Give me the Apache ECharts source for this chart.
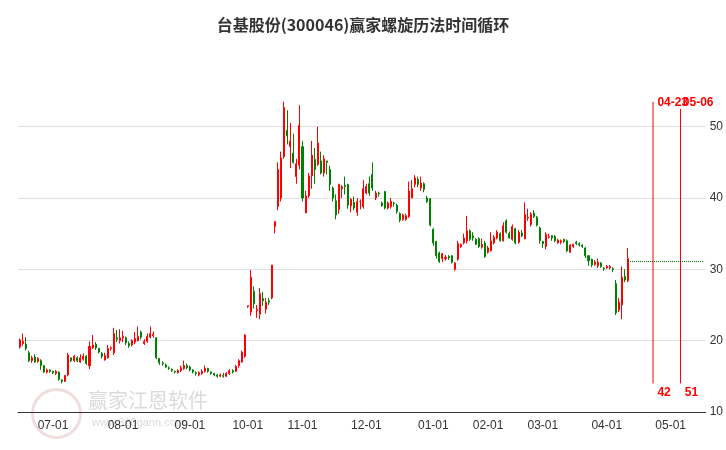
<!DOCTYPE html>
<html><head><meta charset="utf-8">
<script src="https://cdn.jsdelivr.net/npm/echarts@6/dist/echarts.min.js"></script>
<style>html,body{margin:0;padding:0;background:#fff}#c{width:726px;height:450px}</style>
</head><body><div id="c"></div>
<script>
const title = '台基股份(300046)赢家螺旋历法时间循环';
// [open, close, low, high] per trading day, month by month
const jun = [[19.1,20.1,18.9,20.3],[19.6,19.9,19.3,21.0],[19.5,18.9,18.6,20.5],[18.3,17.2,17.0,18.6],[17.2,17.6,16.9,17.9],[17.7,17.0,16.9,18.1],[17.1,17.5,16.9,17.7],[17.2,16.5,15.9,17.4],[16.5,15.6,15.5,16.6],[15.6,15.9,15.4,16.1],[15.9,15.7,15.5,16.0]];
const jul = [[15.7,15.5,15.3,15.8],[15.4,15.7,15.2,15.9],[15.6,14.6,14.4,15.7],[14.5,14.3,14.0,14.6],[14.3,15.1,14.2,15.2],[15.2,18.0,15.0,18.3],[17.6,17.2,17.0,17.6],[17.2,17.8,17.0,18.0],[17.6,17.2,17.0,17.8],[17.0,17.6,16.9,18.1],[17.4,17.8,17.2,18.2],[17.8,16.8,16.6,18.0],[16.5,19.2,16.0,19.9],[19.0,19.4,18.8,20.8],[19.5,19.0,18.7,19.8],[18.9,18.4,18.2,19.0],[18.2,17.8,17.5,18.4],[17.3,17.9,17.2,18.3],[17.6,18.9,17.5,19.4],[18.9,19.0,18.6,19.2],[18.3,21.0,18.0,21.8],[20.4,20.2,19.8,21.5],[20.0,20.4,19.6,21.6]];
const aug = [[20.4,20.6,19.8,21.4],[20.4,19.7,19.4,20.6],[19.6,19.3,19.0,19.9],[19.4,20.0,19.2,20.2],[19.8,20.3,19.5,21.2],[20.0,20.6,19.9,22.0],[21.2,20.5,20.2,21.4],[19.6,19.9,19.4,20.2],[19.9,20.6,19.7,21.0],[20.5,21.0,20.3,22.0],[20.7,20.9,20.4,21.3],[20.4,17.6,17.4,20.5],[17.5,16.9,16.6,17.6],[16.9,16.8,16.5,17.1],[16.6,16.3,16.2,16.8],[16.2,16.1,15.9,16.4],[16.0,15.8,15.6,16.1],[15.7,15.6,15.4,15.8],[15.5,15.8,15.4,16.0],[15.8,16.2,15.6,16.5],[16.1,16.5,15.9,17.2],[16.5,16.2,16.0,16.8]];
const sep = [[16.3,15.9,15.7,16.5],[15.9,15.6,15.4,16.0],[15.5,15.4,15.1,15.7],[15.2,15.5,15.0,15.7],[15.4,15.7,15.2,16.0],[15.7,16.1,15.5,16.5],[16.1,15.7,15.5,16.2],[15.6,15.4,15.2,15.7],[15.4,15.2,15.0,15.5],[15.2,15.0,14.8,15.3],[15.0,15.2,14.9,15.4],[15.1,15.0,14.8,15.5],[15.0,15.4,14.9,15.6],[15.4,15.8,15.2,16.0],[15.8,15.6,15.4,16.0],[15.7,16.4,15.6,16.6],[16.5,17.2,16.2,17.4],[17.0,18.4,16.9,18.6],[17.8,20.8,17.6,20.9]];
const oct = [[24.8,24.9,24.6,24.9],[24.0,28.9,23.5,29.9],[26.9,25.2,24.5,27.6],[24.2,24.4,23.2,25.0],[23.7,26.6,23.0,27.4],[25.9,25.6,24.9,26.8],[24.4,25.4,23.8,26.0],[25.6,25.4,25.0,26.0],[26.0,30.6,25.8,30.6],[36.0,36.7,35.0,36.7],[38.8,44.0,38.3,45.0],[40.0,45.6,39.5,46.5],[45.8,52.7,45.5,53.5],[49.5,48.7,47.5,52.3],[47.2,48.0,44.2,50.5],[46.3,45.0,44.8,49.0],[43.0,44.8,42.0,45.5],[44.6,50.2,44.0,53.0]];
const nov = [[47.2,40.0,39.5,48.0],[37.9,40.3,37.9,41.0],[40.3,43.1,40.0,43.5],[43.1,46.0,41.3,48.0],[45.4,44.0,42.0,47.0],[44.7,47.7,44.5,50.0],[45.2,43.5,43.3,46.5],[43.5,45.5,43.0,46.0],[45.2,45.0,43.3,45.2],[44.0,41.9,41.0,44.5],[41.4,40.0,39.5,41.6],[39.6,37.6,37.0,40.5],[38.4,41.9,37.8,42.0],[41.3,41.6,40.0,41.8],[41.8,41.6,40.5,43.0],[41.9,39.0,38.5,42.0],[38.9,39.8,38.0,40.0],[39.4,38.6,38.3,40.2],[38.0,39.5,37.5,40.0],[39.5,39.5,38.4,39.8],[38.8,41.3,38.5,42.5]];
const dec = [[40.7,41.6,40.5,42.0],[42.0,40.7,40.3,43.0],[43.3,41.4,41.0,45.0],[40.0,40.7,39.7,41.0],[40.7,40.6,40.2,40.9],[39.3,38.9,38.8,39.5],[40.9,38.6,38.4,41.0],[38.6,39.3,38.4,39.5],[38.8,39.5,38.5,40.0],[39.3,39.2,38.8,39.5],[39.0,38.1,37.8,39.2],[37.8,36.9,36.6,38.0],[37.0,37.6,36.8,37.8],[37.0,37.5,36.8,37.8],[37.4,41.0,37.2,42.3],[40.0,41.3,40.0,42.5],[41.9,42.8,41.5,43.2],[42.6,41.9,41.5,43.0],[41.4,42.1,41.0,43.0],[42.0,41.2,40.8,42.2],[40.0,39.5,39.3,40.3],[39.9,36.2,36.0,40.0]];
const jan = [[35.6,33.7,33.3,35.8],[33.9,31.9,31.5,34.0],[32.3,31.1,30.9,32.5],[31.5,32.2,31.0,32.3],[31.5,31.7,31.2,32.0],[31.8,31.6,31.3,32.0],[31.9,31.0,30.8,32.0],[30.0,30.9,29.8,31.0],[31.4,33.6,31.2,34.0],[33.2,33.5,33.0,33.6],[33.7,34.4,33.5,35.0],[34.0,35.4,33.6,37.5],[35.4,34.2,34.0,35.6],[34.7,34.4,34.0,35.2],[34.2,33.5,33.4,34.4],[34.3,33.2,33.0,34.5],[33.1,33.5,32.9,34.3],[33.7,31.8,31.6,34.0]];
const feb = [[32.4,33.0,32.2,33.3],[32.6,34.0,32.5,35.2],[33.7,34.5,33.5,34.8],[34.4,35.2,34.2,35.5],[35.0,34.0,33.9,35.2],[34.0,36.1,33.9,36.6],[36.8,35.2,35.0,37.0],[35.0,34.4,34.3,35.3],[34.2,36.0,34.0,36.3],[35.7,33.7,33.5,35.8],[33.8,35.2,33.6,35.5],[35.1,34.7,34.5,35.5],[34.3,37.7,34.2,39.4],[37.2,37.3,36.8,38.5],[36.3,37.8,36.0,38.0],[37.9,37.4,37.2,38.3],[37.3,36.2,36.0,37.5],[35.8,34.0,33.6,36.0]];
const mar = [[33.9,33.6,33.0,34.0],[33.2,34.9,32.8,35.2],[34.5,34.6,34.3,35.0],[34.7,34.4,34.0,34.8],[34.6,34.0,33.8,34.8],[33.7,34.1,33.6,34.3],[33.8,34.0,33.5,34.2],[34.2,33.9,33.7,34.3],[34.0,32.6,32.4,34.2],[32.4,33.4,32.3,33.5],[33.2,33.5,33.0,33.6],[33.8,33.6,33.4,34.0],[33.6,33.4,33.2,33.8],[33.4,33.2,33.0,33.5],[33.0,31.9,31.6,33.1],[31.9,31.2,30.5,32.0],[31.4,30.6,30.3,31.5],[30.7,31.0,30.5,31.3],[30.5,31.0,30.2,31.5],[30.9,30.4,30.2,31.0],[30.2,30.1,29.8,30.3]];
const apr = [[30.2,30.4,30.1,30.6],[30.2,30.4,30.0,30.6],[30.1,30.0,29.6,30.3],[28.0,23.9,23.6,28.5],[24.3,25.4,24.0,26.0],[25.0,28.9,23.0,30.4],[29.0,28.5,28.2,30.0],[28.4,31.5,28.2,33.0]];
const holidays = ['2024-09-16','2024-09-17','2024-10-01','2024-10-02','2024-10-03','2024-10-04','2024-10-07','2025-01-01','2025-01-28','2025-01-29','2025-01-30','2025-01-31','2025-02-03','2025-02-04','2025-04-04'];
const startDate = '2024-06-14', lastTrade = '2025-04-11', endDate = '2025-05-16';
const cycleDates = ['2025-04-23','2025-05-06'];
const cycleNums = ['42','51'];
const lastClose = 31.2;

const ohlc = [].concat(jun,jul,aug,sep,oct,nov,dec,jan,feb,mar,apr);
function fmt(d){return d.getUTCFullYear()+'-'+String(d.getUTCMonth()+1).padStart(2,'0')+'-'+String(d.getUTCDate()).padStart(2,'0');}
const dates=[];
for(let d=new Date(startDate+'T00:00:00Z'); fmt(d)<=endDate; d.setUTCDate(d.getUTCDate()+1)){
  const s=fmt(d), w=d.getUTCDay();
  if(w===0||w===6) continue;
  if(s<=lastTrade && holidays.includes(s)) continue;
  dates.push(s);
}
const data = dates.map((d,i)=> i<ohlc.length ? [ohlc[i][0],ohlc[i][1],ohlc[i][2],ohlc[i][3]] : '-');
const monthStart = (i)=> i>0 && dates[i].slice(5,7)!==dates[i-1].slice(5,7);
const red='#ff0000';
const topLabel=(txt,dx)=>({show:true,position:'start',formatter:txt,color:red,fontWeight:'bold',fontSize:12,align:'left',offset:[dx,12]});

const chart = echarts.init(document.getElementById('c'));
chart.setOption({
  animation:false,
  title:{text:title,left:'center',top:12,textStyle:{fontSize:16,fontWeight:'bold',color:'#333',fontFamily:'Noto Sans CJK SC'}},
  graphic:[
    {type:'circle',left:30,top:387,shape:{r:24},style:{fill:'none',stroke:'rgba(200,120,120,0.25)',lineWidth:3}},
    {type:'text',left:88,top:390,style:{text:'赢家江恩软件',fontSize:20,fill:'rgba(150,150,150,0.35)',fontFamily:'Noto Sans CJK SC'}},
    {type:'text',left:92,top:417,style:{text:'www.360gann.com',fontSize:11,fill:'rgba(150,150,150,0.35)'}}
  ],
  grid:{left:18,right:18,top:91,bottom:38},
  xAxis:{type:'category',data:dates,boundaryGap:true,
    axisLine:{lineStyle:{color:'#333'}},
    axisTick:{interval:(i)=>monthStart(i),lineStyle:{color:'#333'}},
    axisLabel:{interval:(i)=>monthStart(i),formatter:(v)=>v.slice(5,7)+'-01',color:'#333',fontSize:12},
    splitLine:{show:false}},
  yAxis:{type:'value',position:'right',min:10,max:55,interval:10,
    axisLine:{show:false},axisTick:{show:false},
    axisLabel:{color:'#333',fontSize:12,showMaxLabel:false,margin:4},
    splitLine:{lineStyle:{color:['#e0e0e0','#e0e0e0','#e0e0e0','#e0e0e0','#e0e0e0','rgba(0,0,0,0)']}}},
  series:[{
    type:'candlestick',data:data,barMaxWidth:3,
    itemStyle:{color:red,color0:'#008000',borderColor:red,borderColor0:'#008000',borderWidth:1},
    markLine:{symbol:'none',silent:true,animation:false,
      data:[
        [{coord:[cycleDates[0],14],lineStyle:{color:'rgba(255,0,0,0.5)',width:2,type:'solid'},label:{show:true,position:'start',formatter:cycleNums[0],color:red,fontWeight:'bold',fontSize:12,align:'left',offset:[5,-2]}},{coord:[cycleDates[0],53.5]}],
        [{coord:[cycleDates[0],53.5],lineStyle:{width:0},label:topLabel(cycleDates[0].slice(5),5)},{coord:[cycleDates[0],53.4]}],
        [{coord:[cycleDates[1],14],lineStyle:{color:red,width:1,type:'solid'},label:{show:true,position:'start',formatter:cycleNums[1],color:red,fontWeight:'bold',fontSize:12,align:'left',offset:[5,-2]}},{coord:[cycleDates[1],52.5]}],
        [{coord:[cycleDates[1],53.5],lineStyle:{width:0},label:topLabel(cycleDates[1].slice(5),3)},{coord:[cycleDates[1],53.4]}],
        [{coord:[lastTrade,lastClose],lineStyle:{color:'#006400',width:1,type:'dotted'},label:{show:false}},{coord:[endDate,lastClose]}]
      ]}
  }]
});
</script></body></html>
